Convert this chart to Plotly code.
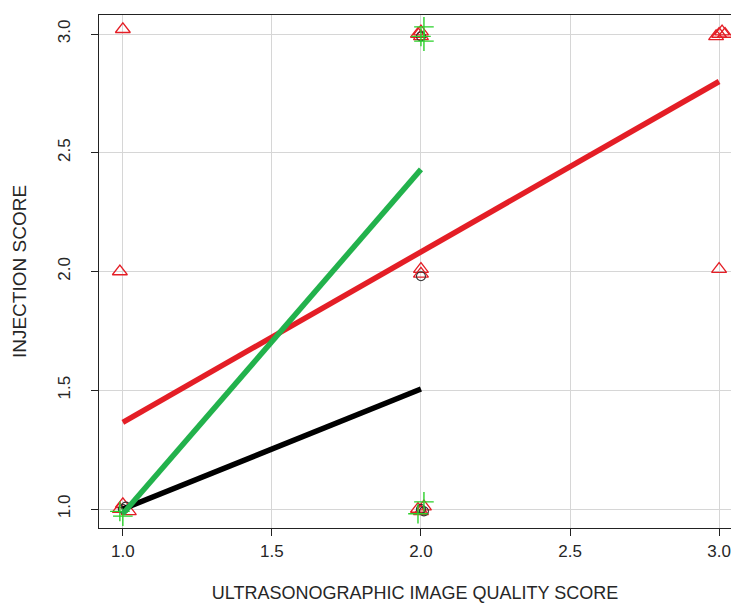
import plotly.graph_objects as go

# Jittered observations (image quality score, injection score)
red_x = [1.00, 0.99, 1.00, 1.02, 0.99, 1.99, 2.00, 2.00, 2.00, 2.00, 1.99, 2.01, 2.00, 2.99, 3.00, 3.01, 3.02, 3.00]
red_y = [3.02, 2.00, 1.02, 0.99, 1.00, 3.00, 2.99, 3.01, 2.01, 1.99, 1.00, 1.01, 0.99, 2.99, 3.00, 3.01, 3.00, 2.01]

green_x = [0.99, 1.00, 2.01, 2.01, 2.00, 2.01, 1.99]
green_y = [0.99, 0.97, 3.03, 2.97, 2.99, 1.03, 0.98]

black_x = [1.00, 1.01, 2.00, 2.01, 2.00, 2.00]
black_y = [1.00, 1.01, 1.00, 0.99, 1.98, 2.99]

# Fitted lines (start/end points)
black_line_x = [1.0, 2.0]
black_line_y = [1.0, 1.505]
green_line_x = [1.0, 2.0]
green_line_y = [0.98, 2.43]
red_line_x = [1.0, 3.0]
red_line_y = [1.365, 2.80]

x_ticks = [1.0, 1.5, 2.0, 2.5, 3.0]
y_ticks = [1.0, 1.5, 2.0, 2.5, 3.0]
tick_labels = ["1.0", "1.5", "2.0", "2.5", "3.0"]

RED = "#E41E26"
GREEN = "#22B24C"
BLACK = "#000000"

fig = go.Figure()

fig.add_trace(go.Scatter(x=red_x, y=red_y, mode="markers",
                         marker=dict(symbol="triangle-up-open", size=13, color=RED, line=dict(width=1.3, color=RED))))
fig.add_trace(go.Scatter(x=black_x, y=black_y, mode="markers",
                         marker=dict(symbol="circle-open", size=9, color="#333333", line=dict(width=1.1, color="#333333"))))
fig.add_trace(go.Scatter(x=green_x, y=green_y, mode="markers",
                         marker=dict(symbol="cross-thin-open", size=14, color="#2BD12B", line=dict(width=1.4, color="#2BD12B"))))

fig.add_trace(go.Scatter(x=black_line_x, y=black_line_y, mode="lines", line=dict(color=BLACK, width=5.5)))
fig.add_trace(go.Scatter(x=red_line_x, y=red_line_y, mode="lines", line=dict(color=RED, width=5.5)))
fig.add_trace(go.Scatter(x=green_line_x, y=green_line_y, mode="lines", line=dict(color=GREEN, width=5.5)))

fig.update_layout(
    width=731, height=603,
    margin=dict(l=99, r=0, t=15, b=75),
    paper_bgcolor="white", plot_bgcolor="white",
    showlegend=False,
    font=dict(family="Liberation Sans, Arial, sans-serif", size=17, color="#262626"),
    xaxis=dict(
        range=[0.92, 3.04], tickvals=x_ticks, ticktext=tick_labels, automargin=False,
        showgrid=True, gridcolor="#D6D6D6", gridwidth=1, zeroline=False,
        showline=True, linecolor="#222222", linewidth=1.2, mirror=True,
        ticks="outside", ticklen=7, tickcolor="#222222",
        title=dict(text="ULTRASONOGRAPHIC IMAGE QUALITY SCORE", standoff=31,
                   font=dict(size=18, color="#262626")),
    ),
    yaxis=dict(
        range=[0.92, 3.08], tickvals=y_ticks, ticktext=tick_labels, tickangle=-90, automargin=False,
        showgrid=True, gridcolor="#D6D6D6", gridwidth=1, zeroline=False,
        showline=True, linecolor="#222222", linewidth=1.2,
        ticks="outside", ticklen=7, tickcolor="#222222", ticklabelstandoff=14,
        title=dict(text="INJECTION SCORE", standoff=23,
                   font=dict(size=19, color="#262626")),
    ),
)

fig.write_html(
    "out.html",
    config={"displayModeBar": False},
    post_script="document.body.style.margin='0';document.body.style.overflow='hidden';",
)
